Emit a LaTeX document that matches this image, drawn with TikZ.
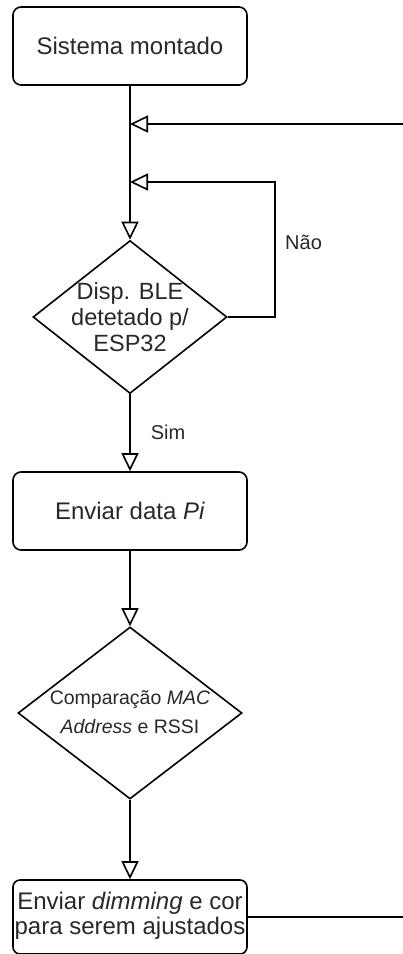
\documentclass[tikz,border=0pt]{standalone}
\usepackage{fontspec}
\setmainfont{Liberation Sans}
\usetikzlibrary{shapes.geometric,arrows.meta}
\definecolor{txt}{RGB}{40,40,40}
\tikzset{
  flow/.style={line width=1.6pt, draw=black},
  arr/.style={flow, -{Triangle[open, length=18pt, width=17pt, line width=1.6pt]}},
  procbox/.style={flow, rectangle, rounded corners=8pt, minimum width=234pt,
    inner sep=0pt, text=txt, align=center, font=\fontsize{24}{25}\selectfont},
  decision/.style={flow, diamond, inner sep=0pt},
  dtext/.style={text=txt, align=center, inner sep=0pt},
  lbl/.style={text=txt, inner sep=0pt, font=\fontsize{20}{24}\selectfont},
}
\begin{document}
\begin{tikzpicture}[x=1pt, y=-1pt]
\useasboundingbox (0,0) rectangle (403,954);

% process boxes
\node[procbox, minimum height=78pt] (start) at (130,46) {Sistema montado};
\node[procbox, minimum height=78pt] (send) at (130,511) {Enviar data \textit{Pi}};
\node[procbox, minimum height=74pt, rounded corners=7pt] (dim) at (130,917)
  {\raisebox{-3pt}{\begin{tabular}{@{}c@{}}Enviar \textit{dimming} e cor\\para serem ajustados\end{tabular}}};

% decisions
\node[decision, minimum width=194pt, minimum height=153pt] (ble) at (130,317) {};
\node[dtext, font=\fontsize{23.5}{26}\selectfont] (bletext) at (130,317)
  {Disp. BLE\\detetado p/\\ESP32};
\node[decision, minimum width=224pt, minimum height=172pt] (cmp) at (130,713) {};
\node[dtext, font=\fontsize{19.5}{29}\selectfont] (cmptext) at (130,712)
  {Comparação \textit{MAC}\\\textit{Address} e RSSI};

% junctions on the main line
\coordinate (j1) at (130,124);
\coordinate (j2) at (130,182);
\coordinate (loopR) at (275,317);
\coordinate (loopT) at (275,182);
\coordinate (edgeTop) at (403,124);
\coordinate (edgeBot) at (403,917);

% main flow
\draw[arr] (start.south) -- (ble.north);
\draw[arr] (ble.south) -- node[lbl, right=20pt, pos=0.5] (sim) {Sim} (send.north);
\draw[arr] (send.south) -- (cmp.north);
\draw[arr] (cmp.south) -- (dim.north);

% "Não" loop back
\draw[arr] (ble.east) -- (loopR) -- (loopT) -- (j2);
\node[lbl, anchor=west] (nao) at (285,242) {Não};

% return loop from the last step
\draw[flow] (dim.east) -- (edgeBot);
\draw[arr] (edgeTop) -- (j1);
\end{tikzpicture}
\end{document}
